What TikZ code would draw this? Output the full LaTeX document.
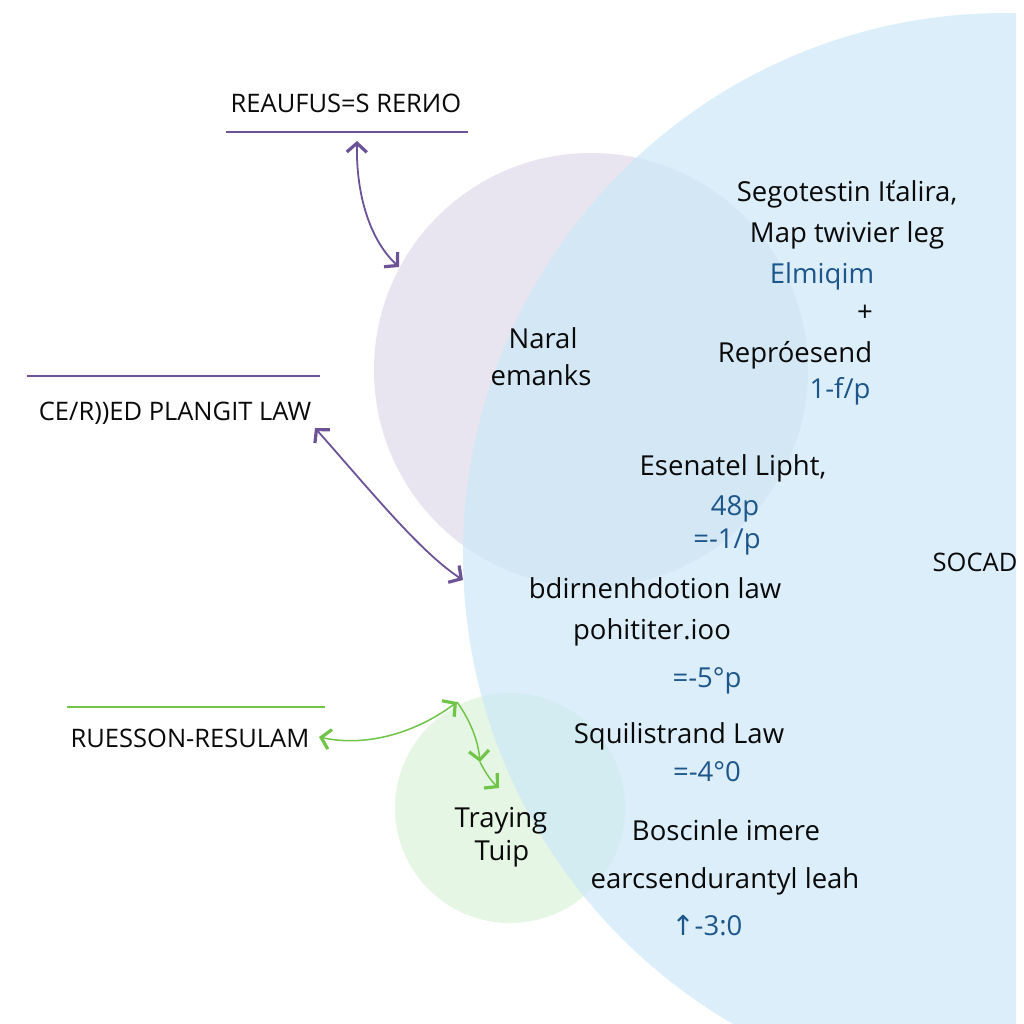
\documentclass[tikz,border=0pt]{standalone}
\usepackage{fontspec}
\setmainfont{Open Sans}
\newfontfamily\symfont{DejaVu Sans}
\usetikzlibrary{arrows.meta}
\definecolor{purplefill}{RGB}{232,229,240}
\definecolor{greenfill}{RGB}{230,246,228}
\definecolor{bluefill}{RGB}{204,232,248}
\definecolor{purpleline}{RGB}{108,82,150}
\definecolor{greenline}{RGB}{112,196,72}
\definecolor{valblue}{RGB}{28,86,138}
\definecolor{ink}{RGB}{10,10,10}
\begin{document}
\begin{tikzpicture}[x=1pt,y=-1pt,
  lbl/.style={anchor=base, font=\fontsize{25.5}{30}\selectfont, inner sep=0pt, text=ink},
  body/.style={anchor=base, font=\fontsize{27.5}{32}\selectfont, inner sep=0pt, text=ink},
  val/.style={body, text=valblue},
  barb/.tip={Straight Barb[length=9pt,width=20pt,line width=3.2pt]},
  parrow/.style={draw=purpleline, line width=1.8pt, barb-barb},
  garrow/.style={draw=greenline, line width=1.5pt, barb-barb},
  garrowone/.style={draw=greenline, line width=1.5pt, -barb},
  rule/.style={line width=2.2pt}
]
\useasboundingbox (0,0) rectangle (1024,1024);
\fill[white] (0,0) rectangle (1024,1024);

% circles
\fill[purplefill] (591,370) circle[radius=217pt];
\fill[greenfill] (510,808) circle[radius=115pt];
\begin{scope}
  \clip (0,0) rectangle (1016,1024);
  \fill[bluefill, opacity=0.7] (1005,555) circle[radius=542pt];
\end{scope}

% left labels with rules
\node[lbl] (t1) at (346,113) {REAUFUS=S RERИO};
\draw[rule, purpleline] (226,132) -- (468,132);
\node[lbl] (t2) at (175,420) {CE/R))ED PLANGIT LAW};
\draw[rule, purpleline] (27,376) -- (320,376);
\node[lbl] (t3) at (190,747) {RUESSON-RESULAM};
\draw[rule, greenline] (67,707) -- (325,707);

% arrows
\coordinate (a1s) at (357,141);
\coordinate (a1e) at (399,267);
\draw[parrow] (a1s) .. controls (356,195) and (370,240) .. (a1e);
\coordinate (a2s) at (315,428);
\coordinate (a2e) at (463,580);
\draw[parrow] (a2s) .. controls (370,490) and (420,552) .. (a2e);
\coordinate (g1s) at (319,737);
\coordinate (g1e) at (457,702);
\draw[garrow] (g1s) .. controls (370,748) and (420,730) .. (g1e);
\coordinate (g2) at (480,762);
\coordinate (g3) at (499,788);
\draw[garrowone] (g1e) .. controls (470,720) and (478,740) .. (g2);
\draw[garrowone] (g2) .. controls (484,770) and (490,780) .. (g3);

% circle texts
\node[body] (n1) at (543,348) {Naral};
\node[body] (n2) at (541,385) {emanks};
\node[body] (tr1) at (501,827) {Traying};
\node[body] (tr2) at (502,860) {Tuip};

% right column
\node[body] (r1) at (847,202) {Segotestin Iťalira,};
\node[body] (r2) at (847,243) {Map twivier leg};
\node[val]  (r3) at (822,283) {Elmiqim};
\node[body] (r4) at (865,321) {+};
\node[body] (r5) at (795,362) {Repróesend};
\node[val]  (r6) at (840,398) {1-f/p};

\node[body] (m1) at (733,475) {Esenatel Lipht,};
\node[val]  (m2) at (735,515) {48p};
\node[val]  (m3) at (727,548) {=-1/p};
\node[lbl]  (s1) at (975,571) {SOCAD};
\node[body] (m4) at (655,598) {bdirnenhdotion law};
\node[body] (m5) at (652,639) {pohititer.ioo};
\node[val]  (m6) at (707,687) {=-5°p};
\node[body] (m7) at (679,743) {Squilistrand Law};
\node[val]  (m8) at (707,781) {=-4°0};
\node[body] (m9) at (726,840) {Boscinle imere};
\node[body] (m10) at (725,888) {earcsendurantyl leah};
\node[val]  (m11) at (707,935) {{\symfont ↑}-3:0};
\end{tikzpicture}
\end{document}
